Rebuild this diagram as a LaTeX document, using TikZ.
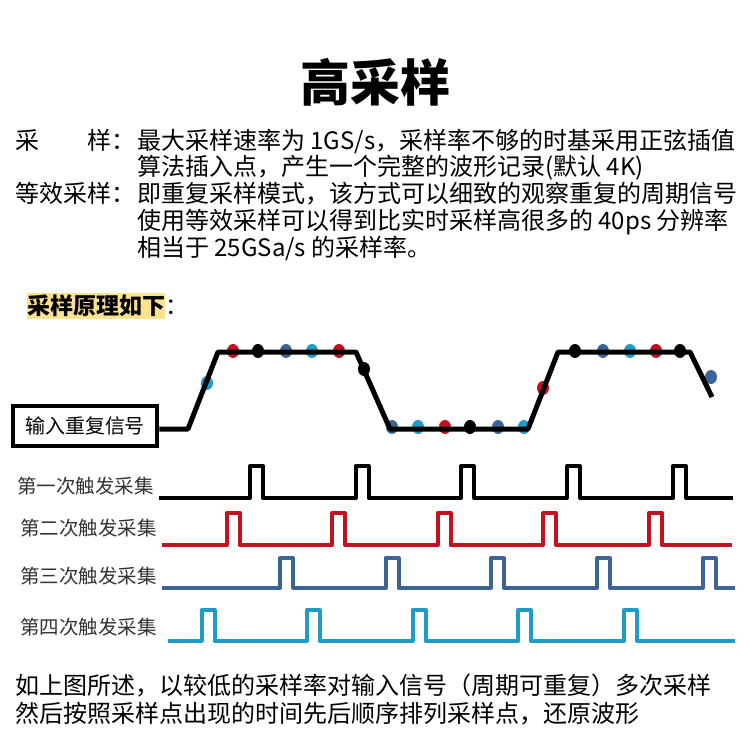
\documentclass[tikz,border=0pt]{standalone}
\usepackage{fontspec}
\setmainfont{Noto Sans CJK SC}
\usetikzlibrary{shapes.geometric}
\definecolor{sred}{HTML}{C4101F}
\definecolor{sdblue}{HTML}{3D6496}
\definecolor{slblue}{HTML}{1E9CC8}
\definecolor{hl}{HTML}{FCE28C}
\definecolor{labgray}{HTML}{333333}
\tikzset{
  body/.style={inner sep=0pt,anchor=base west,font=\fontsize{24}{24}\selectfont},
  lab/.style={inner sep=0pt,anchor=west,text=labgray,font=\fontsize{19.5}{20}\selectfont},
  wave/.style={line width=5pt,line join=round},
  pulse/.style={line width=4pt,line join=round},
  dot/.style={ellipse,minimum width=12pt,minimum height=14pt,inner sep=0pt,fill=#1},
}
\begin{document}
\begin{tikzpicture}[x=1pt,y=-1pt]
\useasboundingbox[fill=white] (0,0) rectangle (750,753);
% title
\node[inner sep=0pt,font=\fontsize{50}{50}\selectfont\bfseries] (title) at (375,82) {高采样};
% body text
\node[body] (l1a) at (15,149) {采\hspace{2em}样：};
\node[body] (l1b) at (137,149) {最大采样速率为 1GS/s，采样率不够的时基采用正弦插值};
\node[body] (l2b) at (137,175) {算法插入点，产生一个完整的波形记录(默认 4K)};
\node[body] (l3a) at (15,202) {等效采样：};
\node[body] (l3b) at (137,202) {即重复采样模式，该方式可以细致的观察重复的周期信号};
\node[body] (l4b) at (137,229) {使用等效采样可以得到比实时采样高很多的 40ps 分辨率};
\node[body] (l5b) at (137,256) {相当于 25GSa/s 的采样率。};
% highlighted heading
\fill[hl] (27,293) rectangle (165,319);
\node[inner sep=0pt,anchor=base west,font=\fontsize{23}{23}\selectfont\bfseries] (prin) at (27,314) {采样原理如下};
\node[inner sep=0pt,anchor=base west,font=\fontsize{23}{23}\selectfont] (colon) at (prin.base east) {：};
% input box
\node[draw,line width=4.5pt,minimum width=144pt,minimum height=40pt,inner sep=0pt,
      font=\fontsize{20}{20}\selectfont] (box) at (85,426) {输入重复信号};
% sample dots
\foreach \x/\y/\c in {207/383/slblue,
  233/351/sred,258/351/black,286/351/sdblue,312/351/slblue,339/351/sred,
  364/369/black,
  392/427/sdblue,418/427/slblue,445/427/sred,470/427/black,498/427/sdblue,524/427/slblue,
  543/388/sred,
  575/351/black,603/351/sdblue,630/351/slblue,656/351/sred,680/351/black,
  711/377/sdblue}
  \node[dot=\c] at (\x,\y) {};
% waveform
\coordinate (wend) at (712,397);
\draw[wave] (box.east |- 0,429) -- (188,429) -- (218,352) -- (356,352) -- (390,429)
  -- (528,429) -- (558,352) -- (690,352) -- (wend);
% trigger rows
\node[lab] (t1) at (17,486) {第一次触发采集};
\node[lab] (t2) at (20,528) {第二次触发采集};
\node[lab] (t3) at (20,576) {第三次触发采集};
\node[lab] (t4) at (20,627) {第四次触发采集};
\draw[pulse,black] (159,498) \foreach \p in {250,355.5,461,567,673}
  { -- (\p,498) -- (\p,466) -- (\p+13,466) -- (\p+13,498) } -- (733,498);
\draw[pulse,sred] (162,545) \foreach \p in {226.5,332,437.5,543,649}
  { -- (\p,545) -- (\p,513) -- (\p+13,513) -- (\p+13,545) } -- (732,545);
\draw[pulse,sdblue] (162,588) \foreach \p in {280,385.5,491,597,702.5}
  { -- (\p,588) -- (\p,558) -- (\p+13,558) -- (\p+13,588) } -- (735,588);
\draw[pulse,slblue] (168,641) \foreach \p in {201.5,307,412.5,518,624}
  { -- (\p,641) -- (\p,610) -- (\p+13,610) -- (\p+13,641) } -- (735,641);
% bottom text
\node[body] (b1) at (15,694) {如上图所述，以较低的采样率对输入信号（周期可重复）多次采样};
\node[body] (b2) at (15,722) {然后按照采样点出现的时间先后顺序排列采样点，还原波形};
\end{tikzpicture}
\end{document}
